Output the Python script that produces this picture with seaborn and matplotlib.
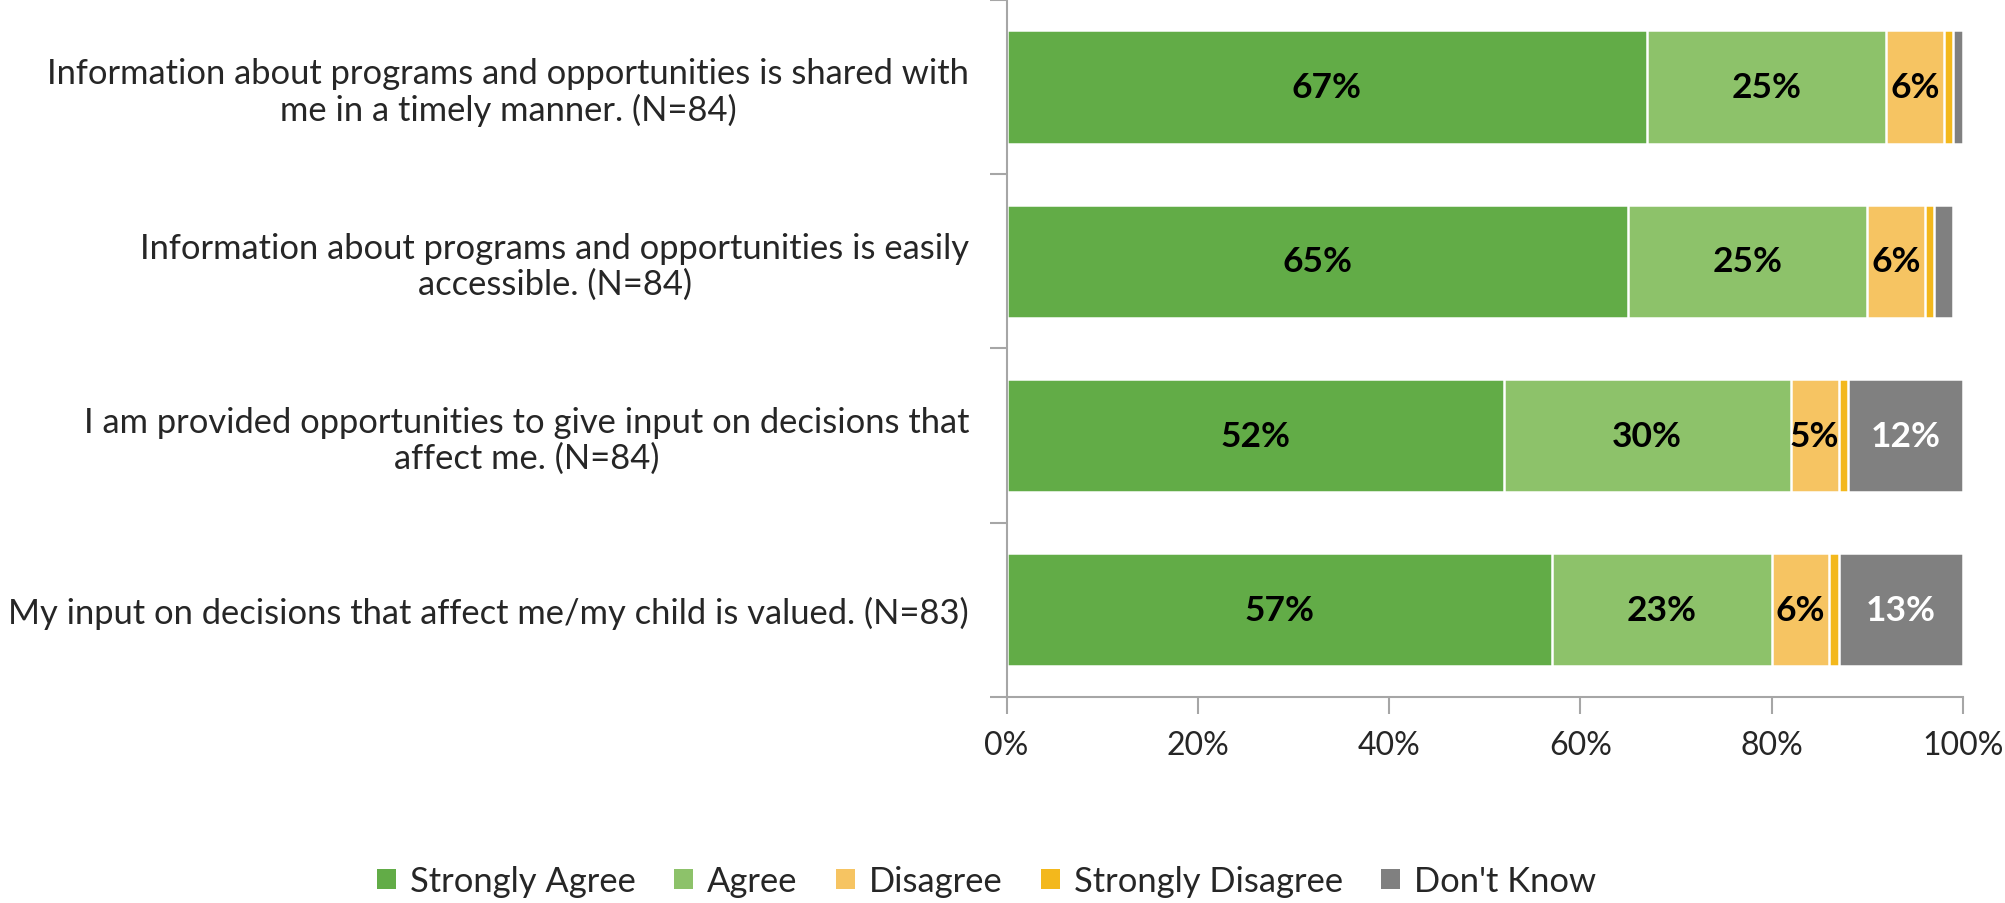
import matplotlib
matplotlib.use("Agg")
import matplotlib.pyplot as plt
from matplotlib.patches import Patch
from matplotlib.ticker import FixedLocator, FuncFormatter
import seaborn as sns
import pandas as pd

# Survey statements (top to bottom) and response categories
statements = [
    "Information about programs and opportunities is shared with\nme in a timely manner. (N=84)",
    "Information about programs and opportunities is easily\naccessible. (N=84)",
    "I am provided opportunities to give input on decisions that\naffect me. (N=84)",
    "My input on decisions that affect me/my child is valued. (N=83)",
]
responses = ["Strongly Agree", "Agree", "Disagree", "Strongly Disagree", "Don't Know"]

# Percent of respondents per response
strongly_agree = [67, 65, 52, 57]
agree = [25, 25, 30, 23]
disagree = [6, 6, 5, 6]
strongly_disagree = [1, 1, 1, 1]
dont_know = [1, 2, 12, 13]

colors = ["#62AC47", "#8DC26A", "#F6C462", "#F3B81C", "#808080"]
x_ticks = [0, 20, 40, 60, 80, 100]

sns.set_theme(style="white")
plt.rcParams["font.family"] = ["Lato", "DejaVu Sans"]
FS_LABEL = 24.8
FS_TICK = 23
FS_BAR = 25.5
AXIS_GRAY = "#A6A6A6"

series = [strongly_agree, agree, disagree, strongly_disagree, dont_know]
rows = []
for resp, vals in zip(responses, series):
    for stmt, v in zip(statements, vals):
        rows.append({"statement": stmt, "response": resp, "value": v})
df = pd.DataFrame(rows)
df["response"] = pd.Categorical(df["response"], categories=responses, ordered=True)
df["statement"] = pd.Categorical(df["statement"], categories=statements, ordered=True)
df = df.sort_values(["statement", "response"])
df["end"] = df.groupby("statement", observed=True)["value"].cumsum()
df["start"] = df["end"] - df["value"]

fig = plt.figure(figsize=(20.05, 9.04), dpi=100)
ax = fig.add_axes([0.502, 0.228, 0.477, 0.771])

# Stacked bars: draw cumulative totals from the last segment back to the first
for resp, col in reversed(list(zip(responses, colors))):
    sub = df[df["response"] == resp]
    sns.barplot(data=sub, x="end", y="statement", order=statements, orient="h",
                color=col, width=0.65, edgecolor="white", linewidth=1.8,
                errorbar=None, saturation=1, ax=ax)

# Value labels inside segments
for i, stmt in enumerate(statements):
    sub = df[df["statement"] == stmt]
    for _, r in sub.iterrows():
        resp = r["response"]
        v = r["value"]
        if resp in ("Strongly Agree", "Agree", "Disagree") or (resp == "Don't Know" and v >= 10):
            tc = "white" if resp == "Don't Know" else "black"
            ax.text(r["start"] + v / 2, i, f"{v}%", ha="center", va="center",
                    fontsize=FS_BAR, fontweight="bold", color=tc)

ax.set_xlim(0, 100)
ax.set_ylim(3.5, -0.5)
ax.set_xlabel("")
ax.set_ylabel("")

ax.xaxis.set_major_locator(FixedLocator(x_ticks))
ax.xaxis.set_major_formatter(FuncFormatter(lambda v, p: f"{v:.0f}%"))
ax.tick_params(axis="x", which="major", length=12, width=1.5, color=AXIS_GRAY,
               direction="out", pad=12, labelsize=FS_TICK, bottom=True)

ax.yaxis.set_major_locator(FixedLocator(range(len(statements))))
ax.set_yticklabels(statements, multialignment="center", linespacing=1.12)
ax.yaxis.set_minor_locator(FixedLocator([-0.5, 0.5, 1.5, 2.5, 3.5]))
ax.tick_params(axis="y", which="major", length=0, pad=27, labelsize=FS_LABEL, left=True)
ax.tick_params(axis="y", which="minor", length=12, width=1.5, color=AXIS_GRAY,
               direction="out", left=True)

for side in ("top", "right"):
    ax.spines[side].set_visible(False)
for side in ("left", "bottom"):
    ax.spines[side].set_color(AXIS_GRAY)
    ax.spines[side].set_linewidth(1.5)

handles = [Patch(facecolor=c, edgecolor="none", label=r) for r, c in zip(responses, colors)]
fig.legend(handles=handles, loc="center", bbox_to_anchor=(0.492, 0.024), ncol=5,
           frameon=False, fontsize=FS_LABEL, handlelength=0.55, handleheight=0.55,
           handletextpad=0.4, columnspacing=1.12)

fig.savefig("out.png", dpi=100)
